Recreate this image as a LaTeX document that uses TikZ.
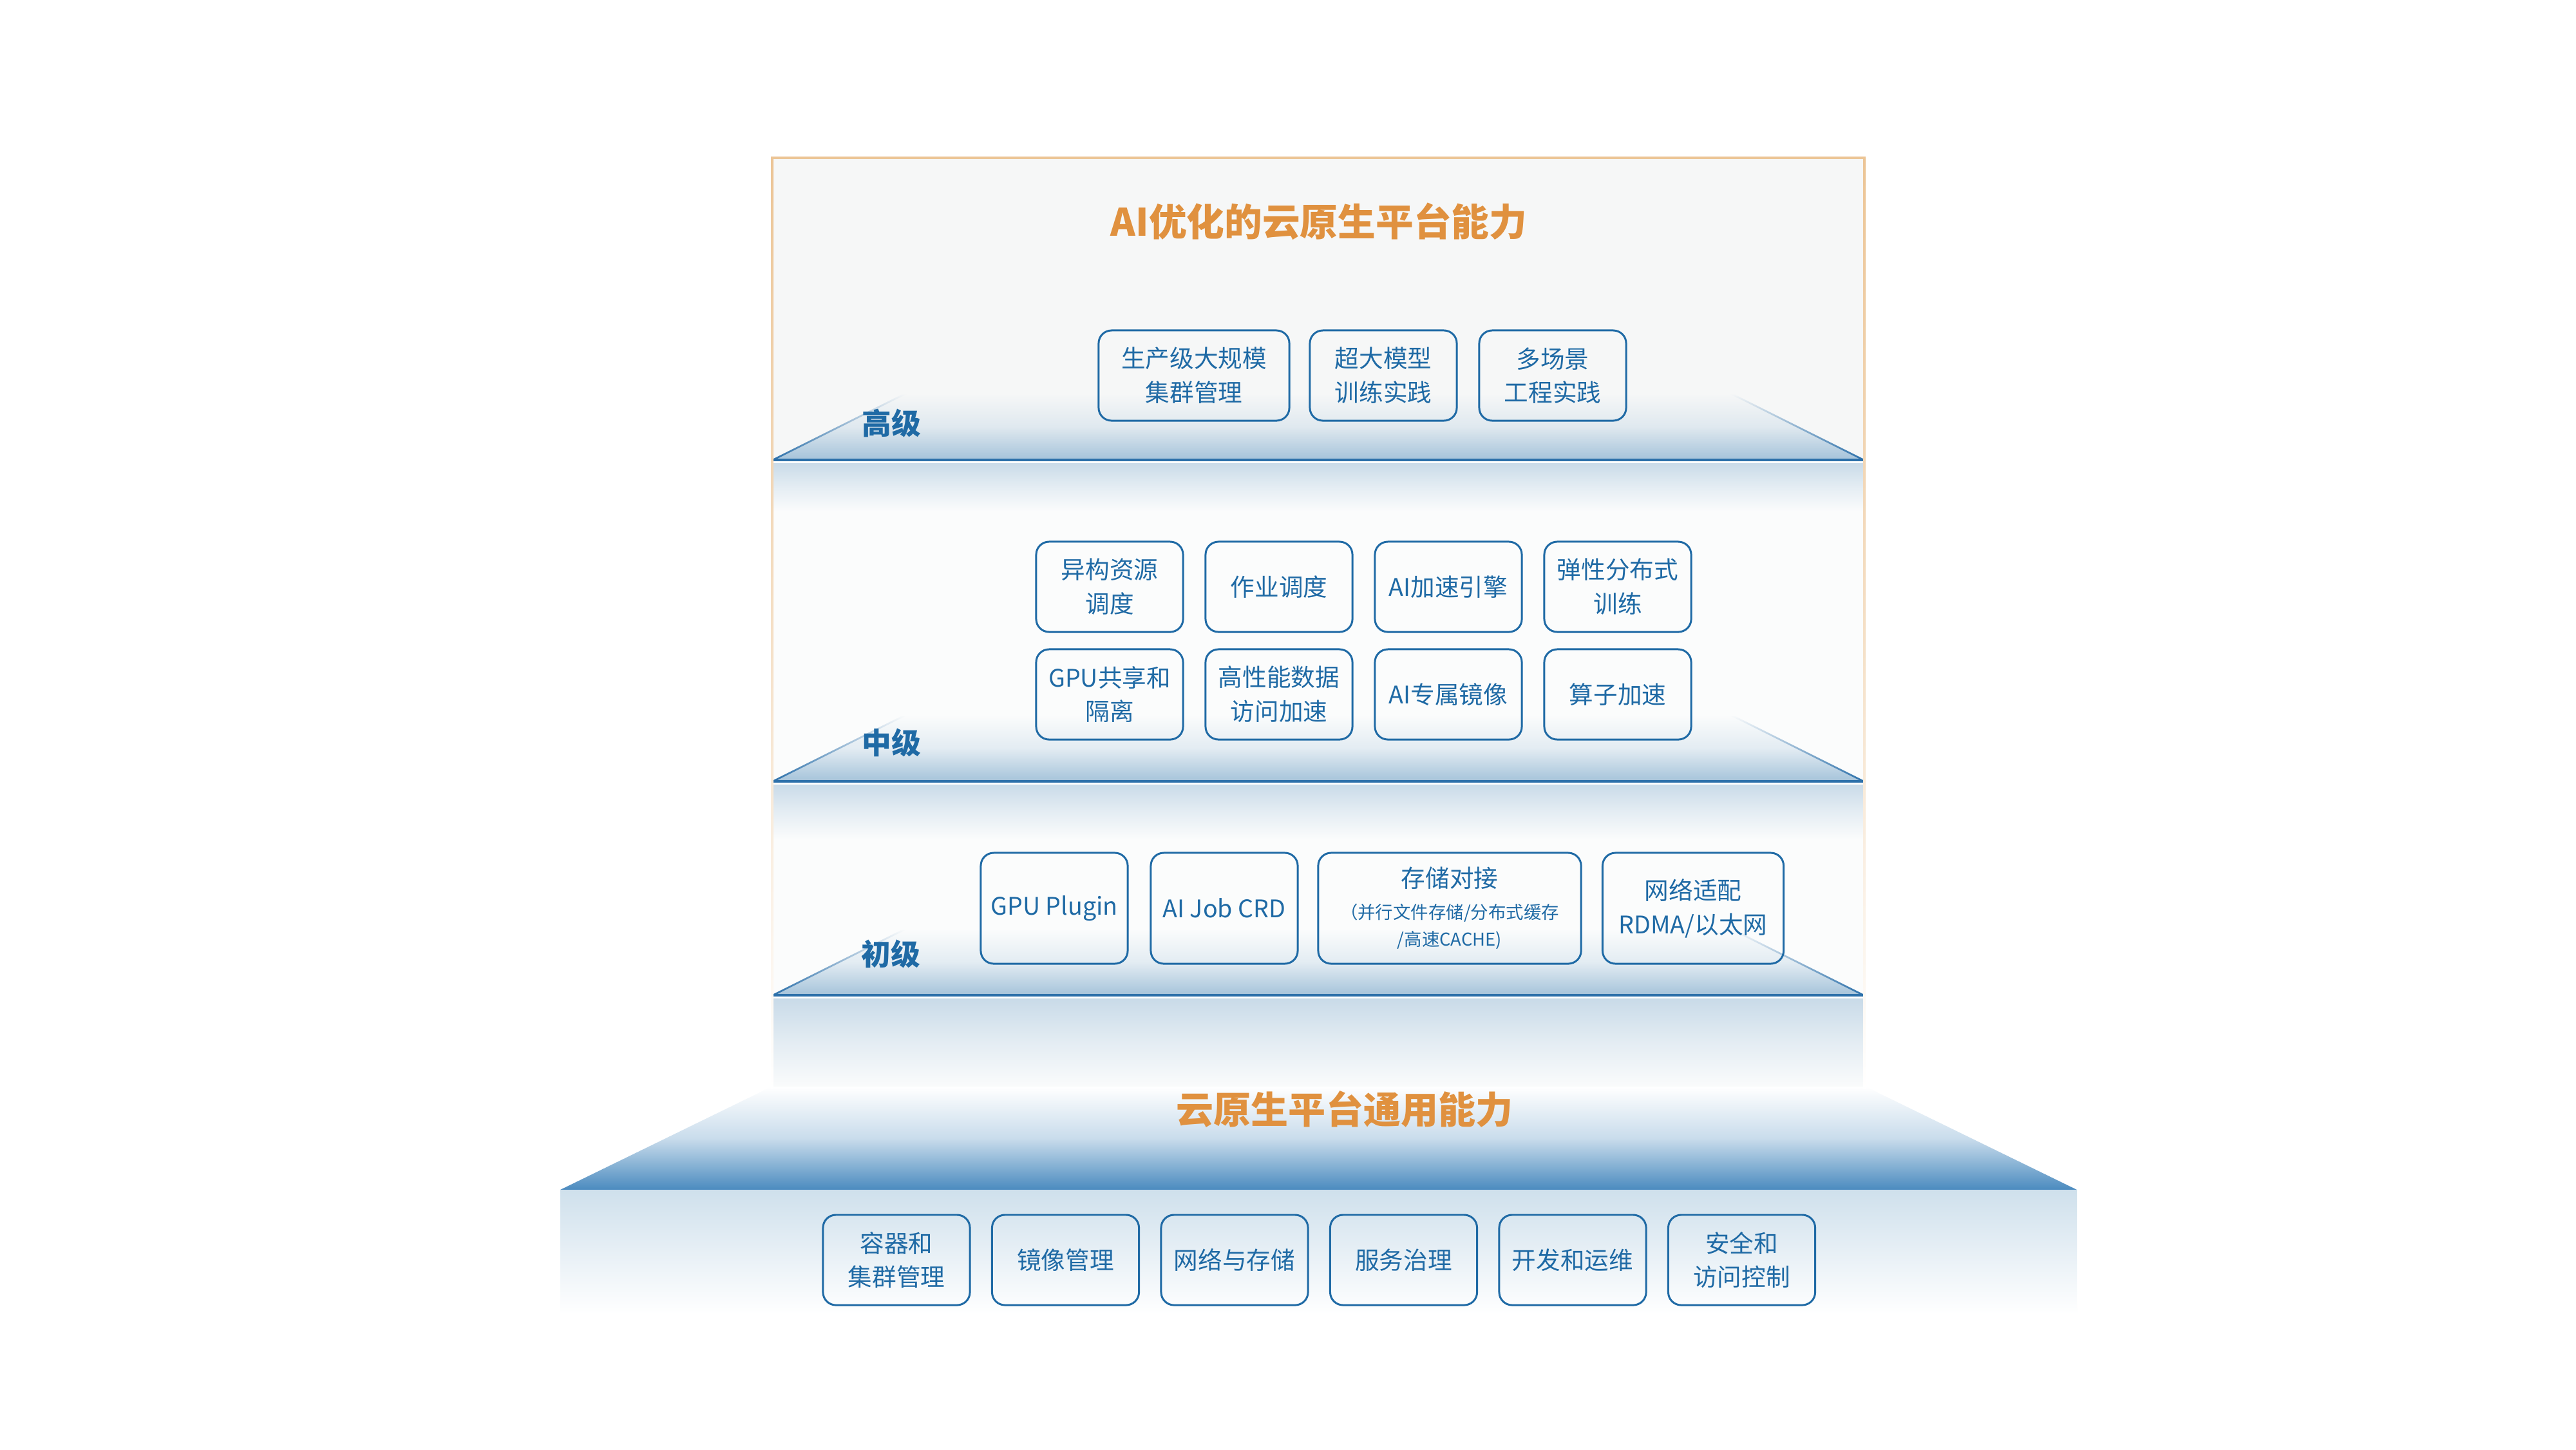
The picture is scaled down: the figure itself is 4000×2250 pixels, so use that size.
\documentclass[tikz,border=0pt]{standalone}
\usepackage{fontspec}
\setmainfont{Noto Sans CJK SC}
\definecolor{tblue}{HTML}{1F6AA5}
\definecolor{orangeT}{HTML}{E0913F}
\definecolor{frameO}{HTML}{ECC596}
\definecolor{bgTop}{HTML}{F6F7F7}
\definecolor{bgMid}{HTML}{FBFCFC}
\definecolor{trapB}{HTML}{A5C3DA}
\definecolor{lineB}{HTML}{2C70AA}
\definecolor{bandT}{HTML}{C8DAE8}
\definecolor{bigB}{HTML}{4B8BBF}
\definecolor{botT}{HTML}{CFE0EC}
\begin{document}
\begin{tikzpicture}[x=0.01cm,y=-0.01cm,
  box/.style={draw=tblue, line width=0.85pt, rounded corners=0.2cm, inner sep=0pt,
    minimum height=1.40cm, minimum width=2.28cm, align=center, text=tblue,
    font=\fontsize{10.7}{15}\selectfont},
  lvl/.style={text=tblue, font=\bfseries\fontsize{13}{15}\selectfont, inner sep=0pt},
  ttl/.style={text=orangeT, font=\bfseries\fontsize{16.7}{20}\selectfont, inner sep=0pt}]
\useasboundingbox (0,0) rectangle (4000,2250);
\fill[white] (0,0) rectangle (4000,2250);
% backgrounds
\fill[bgTop] (1199,245) rectangle (2895,714);
\fill[bgMid] (1199,714) rectangle (2895,1690);
% steps
\foreach \Y/\bg/\bl in {714/bgTop/80, 1213/bgMid/90, 1545/bgMid/145}{
  \shade[top color=\bg, bottom color=trapB, middle color=trapB!28!\bg]
    (1199,\Y)--(1405,\Y-103)--(2689,\Y-103)--(2895,\Y)--cycle;
  \shade[top color=\bg, bottom color=lineB]
    (1197,\Y)--(1403,\Y-103)--(1409,\Y-103)--(1203,\Y)--cycle;
  \shade[top color=\bg, bottom color=lineB]
    (2897,\Y)--(2691,\Y-103)--(2685,\Y-103)--(2891,\Y)--cycle;
  \shade[top color=bandT, bottom color=bgMid, middle color=bandT!45!bgMid]
    (1199,\Y+3) rectangle (2895,\Y+\bl);
  \draw[lineB, line width=0.9pt] (1199,\Y)--(2895,\Y);
  \draw[white, line width=0.5pt] (1199,\Y+4)--(2895,\Y+4);
}
% big base
\shade[top color=white, bottom color=bigB, middle color=bigB!30!white]
  (870,1847)--(1198,1687)--(2897,1687)--(3225,1847)--cycle;
\shade[top color=botT, bottom color=white]
  (870,1847) rectangle (3225,2040);
% orange frame
\shade[top color=frameO, bottom color=white, middle color=frameO!55!white]
  (1197,245) rectangle (1201,1690);
\shade[top color=frameO, bottom color=white, middle color=frameO!55!white]
  (2893,245) rectangle (2897,1690);
\draw[frameO, line width=0.9pt] (1197,245)--(2897,245);
% titles
\node[ttl] (title1) at (2048,344) {AI优化的云原生平台能力};
\node[ttl, font=\bfseries\fontsize{16.5}{20}\selectfont] (title2) at (2088,1722) {云原生平台通用能力};
% level labels
\node[lvl] (lvH) at (1384,657) {高级};
\node[lvl] (lvM) at (1384,1153) {中级};
\node[lvl] (lvL) at (1383,1481) {初级};
% advanced
\node[box, minimum width=2.96cm] (a1) at (1854,583) {生产级大规模\\集群管理};
\node[box] (a2) at (2148,583) {超大模型\\训练实践};
\node[box] (a3) at (2411,583) {多场景\\工程实践};
% middle
\node[box] (m1) at (1723,911) {异构资源\\调度};
\node[box] (m2) at (1986,911) {作业调度};
\node[box] (m3) at (2249,911) {AI加速引擎};
\node[box] (m4) at (2512,911) {弹性分布式\\训练};
\node[box] (m5) at (1723,1078) {GPU共享和\\隔离};
\node[box] (m6) at (1986,1078) {高性能数据\\访问加速};
\node[box] (m7) at (2249,1078) {AI专属镜像};
\node[box] (m8) at (2512,1078) {算子加速};
% basic
\node[box, minimum height=1.72cm] (b1) at (1637,1410) {GPU Plugin};
\node[box, minimum height=1.72cm] (b2) at (1901,1410) {AI Job CRD};
\node[box, minimum width=4.08cm, minimum height=1.72cm] (b3) at (2251,1410)
  {存储对接\\[-1.3pt]{\fontsize{7.8}{12}\selectfont （并行文件存储/分布式缓存}\\[-3pt]{\fontsize{7.8}{12}\selectfont /高速CACHE)}};
\node[box, minimum width=2.81cm, minimum height=1.72cm] (b4) at (2629,1410) {网络适配\\RDMA/以太网};
% common
\node[box] (c1) at (1392,1956) {容器和\\集群管理};
\node[box] (c2) at (1654.5,1956) {镜像管理};
\node[box] (c3) at (1917,1956) {网络与存储};
\node[box] (c4) at (2179.5,1956) {服务治理};
\node[box] (c5) at (2442,1956) {开发和运维};
\node[box] (c6) at (2704.5,1956) {安全和\\访问控制};
\end{tikzpicture}
\end{document}
